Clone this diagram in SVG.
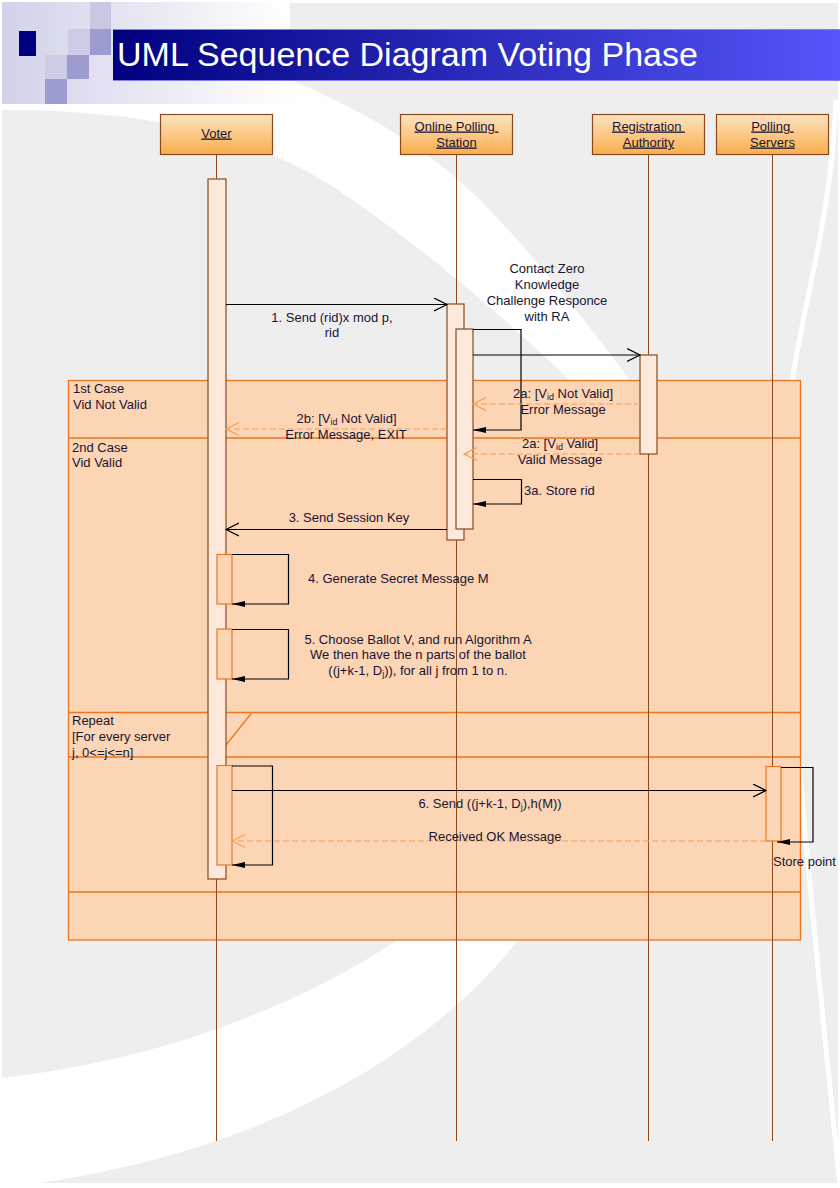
<svg xmlns="http://www.w3.org/2000/svg" width="840" height="1188" viewBox="0 0 840 1188">
<defs>
  <linearGradient id="hdrfade" x1="0" x2="1" y1="0" y2="0"><stop offset="0" stop-color="#d2d2ea"/><stop offset="1" stop-color="#ffffff"/></linearGradient>
  <linearGradient id="titlebar" x1="0" x2="1" y1="0" y2="0"><stop offset="0" stop-color="#00007e"/><stop offset="1" stop-color="#5555fa"/></linearGradient>
  <linearGradient id="boxfill" x1="0" x2="0" y1="0" y2="1"><stop offset="0" stop-color="#fde3c2"/><stop offset="1" stop-color="#f9ae4c"/></linearGradient>
  <marker id="open" markerWidth="15" markerHeight="15" refX="13" refY="7" orient="auto" markerUnits="userSpaceOnUse"><path d="M0,0.5 L13,7 L0,13.5" fill="none" stroke="#000" stroke-width="1.2"/></marker>
  <marker id="openO" markerWidth="15" markerHeight="15" refX="13" refY="7" orient="auto" markerUnits="userSpaceOnUse"><path d="M0,0.5 L13,7 L0,13.5" fill="none" stroke="#f8a05a" stroke-width="1.2"/></marker>
  <marker id="solid" markerWidth="15" markerHeight="8" refX="13" refY="4" orient="auto" markerUnits="userSpaceOnUse"><path d="M0,1 L13,4 L0,7 z" fill="#000"/></marker>
</defs>
<style>
  .lbl{font-family:"Liberation Sans",Arial,sans-serif;font-size:13px;fill:#1a1433}
  .mid{text-anchor:middle}
  .ul{text-decoration:underline}
  .box{fill:url(#boxfill);stroke:#8b4a1c;stroke-width:1.2}
  .life{stroke:#8b4a1c;stroke-width:1}
  .act{fill:#fde9dc;stroke:#8b4a1c;stroke-width:1.2}
  .act2{fill:#fcd5b4;stroke:#ed7520;stroke-width:1.2}
  .msg{stroke:#000;stroke-width:1.2;fill:none}
  .ret{stroke:#f8a05a;stroke-width:1.2;stroke-dasharray:6 3;fill:none}
  .frame{fill:#fcd5b4;stroke:#ed7520;stroke-width:1.3}
  .fline{stroke:#ed7520;stroke-width:1.3;fill:none}
  .sub{font-size:9px}
</style>

<!-- background -->
<g id="background">
  <rect x="0" y="0" width="840" height="1188" fill="#ffffff"/>
  <rect x="2" y="108" width="836" height="1075" fill="#eeeeee"/>
  <rect x="288" y="3" width="550" height="106" fill="#eeeeee"/>
  <path d="M0 104 L0 110 C150 110 250 135 330 185 C400 230 500 310 600 410 L660 420 C600 340 540 260 480 200 C420 140 350 105 280 75 L280 104 Z" fill="#ffffff"/>
  <path d="M0 1078 C150 1062 300 1010 420 925 L530 925 C430 1060 250 1160 0 1188 Z" fill="#ffffff"/>
  <path d="M836 100 C830 250 790 330 786 450 C782 600 800 800 840 1185" fill="none" stroke="#ffffff" stroke-width="5"/>
  <rect x="2" y="2" width="288" height="102" fill="url(#hdrfade)"/>
  <rect x="90" y="2" width="21" height="27" fill="#c8c8e4"/>
  <rect x="90" y="29" width="21" height="26" fill="#9c9cd0"/>
  <rect x="68" y="29" width="22" height="26" fill="#ccccE6"/>
  <rect x="45" y="55" width="22" height="24" fill="#ccccE6"/>
  <rect x="67" y="55" width="22" height="24" fill="#9c9cd0"/>
  <rect x="45" y="79" width="22" height="25" fill="#9c9cd0"/>
  <rect x="19" y="31" width="17" height="25" fill="#000080"/>
  <rect x="113" y="29" width="727" height="52" fill="url(#titlebar)"/>
  <line x1="113" y1="29.5" x2="840" y2="29.5" stroke="#8080e8" stroke-width="1"/>
  <line x1="113" y1="80.5" x2="840" y2="80.5" stroke="#8080e8" stroke-width="1"/>
  <text x="117" y="66" font-family="'Liberation Sans',Arial,sans-serif" font-size="34" fill="#ffffff">UML Sequence Diagram Voting Phase</text>
</g>

<!-- combined fragment frame -->
<g id="frame">
  <rect class="frame" x="68.5" y="380.5" width="732" height="559.5"/>
  <line class="fline" x1="68.5" y1="438" x2="800.5" y2="438"/>
  <line class="fline" x1="68.5" y1="712.5" x2="800.5" y2="712.5"/>
  <line class="fline" x1="68.5" y1="757" x2="800.5" y2="757"/>
  <line class="fline" x1="68.5" y1="892" x2="800.5" y2="892"/>
  <line class="fline" x1="226" y1="745" x2="252" y2="712.5" stroke-width="1"/>
  <text class="lbl" x="73" y="392.5">1st Case</text>
  <text class="lbl" x="73" y="408.5">Vid Not Valid</text>
  <text class="lbl" x="72" y="451.5">2nd Case</text>
  <text class="lbl" x="72" y="466.5">Vid Valid</text>
  <text class="lbl" x="72" y="725">Repeat</text>
  <text class="lbl" x="72" y="741">[For every server</text>
  <text class="lbl" x="72" y="757">j, 0&lt;=j&lt;=n]</text>
</g>

<!-- lifelines -->
<g id="voter">
  <line class="life" x1="216.5" y1="154" x2="216.5" y2="1141"/>
  <rect class="box" x="160.5" y="114.5" width="112" height="40"/>
  <text class="lbl mid ul" x="216.5" y="137.5">Voter</text>
  <rect class="act" x="208" y="179" width="18" height="700"/>
  <rect class="act2" x="217" y="554.5" width="15" height="49.5"/>
  <rect class="act2" x="217" y="629" width="15" height="50"/>
  <rect class="act2" x="217" y="765.5" width="15" height="99.5"/>
</g>
<g id="online-polling-station">
  <line class="life" x1="456.5" y1="154" x2="456.5" y2="1141"/>
  <rect class="box" x="400.5" y="114.5" width="112" height="40"/>
  <text class="lbl mid ul" x="456.5" y="130.5" xml:space="preserve">Online Polling </text>
  <text class="lbl mid ul" x="456.5" y="146.5">Station</text>
  <rect class="act" x="447" y="304" width="17" height="236"/>
  <rect class="act" x="456" y="329" width="17" height="200"/>
</g>
<g id="registration-authority">
  <line class="life" x1="648.5" y1="154" x2="648.5" y2="1141"/>
  <rect class="box" x="592.5" y="114.5" width="112" height="40"/>
  <text class="lbl mid ul" x="648.5" y="130.5" xml:space="preserve">Registration </text>
  <text class="lbl mid ul" x="648.5" y="146.5">Authority</text>
  <rect class="act" x="640" y="355" width="17" height="99"/>
</g>
<g id="polling-servers">
  <line class="life" x1="772.5" y1="154" x2="772.5" y2="1141"/>
  <rect class="box" x="716.5" y="114.5" width="112" height="40"/>
  <text class="lbl mid ul" x="772.5" y="130.5" xml:space="preserve">Polling </text>
  <text class="lbl mid ul" x="772.5" y="146.5">Servers</text>
  <rect class="act2" x="766" y="766.5" width="15" height="74.5"/>
</g>

<!-- connectors -->
<g id="connectors">
  <path class="msg" d="M226 304.5 H447" marker-end="url(#open)"/>
  <text class="lbl mid" x="332" y="321.5">1. Send (rid)x mod p,</text>
  <text class="lbl mid" x="332" y="337">rid</text>

  <path class="msg" d="M473 329.5 H521 V430 H473" marker-end="url(#solid)"/>
  <text class="lbl mid" x="547" y="272.5">Contact Zero</text>
  <text class="lbl mid" x="547" y="288.5">Knowledge</text>
  <text class="lbl mid" x="547" y="304.5">Challenge Responce</text>
  <text class="lbl mid" x="547" y="320.5">with RA</text>

  <path class="msg" d="M473 355 H640" marker-end="url(#open)"/>

  <path class="ret" d="M640 404 H473" marker-end="url(#openO)"/>
  <text class="lbl mid" x="563" y="397.5">2a: [V<tspan class="sub" dy="2">id</tspan><tspan dy="-2"> Not Valid]</tspan></text>
  <text class="lbl mid" x="563" y="413.5">Error Message</text>

  <path class="ret" d="M447 429 H226" marker-end="url(#openO)"/>
  <text class="lbl mid" x="346.5" y="422.5">2b: [V<tspan class="sub" dy="2">id</tspan><tspan dy="-2"> Not Valid]</tspan></text>
  <text class="lbl mid" x="346" y="438.5">Error Message, EXIT</text>

  <path class="ret" d="M640 454 H464" marker-end="url(#openO)"/>
  <text class="lbl mid" x="560" y="447.5">2a: [V<tspan class="sub" dy="2">id</tspan><tspan dy="-2"> Valid]</tspan></text>
  <text class="lbl mid" x="560" y="463.5">Valid Message</text>

  <path class="msg" d="M473 479.5 H521.5 V504 H473" marker-end="url(#solid)"/>
  <text class="lbl" x="524" y="494.5">3a. Store rid</text>

  <path class="msg" d="M447 529.5 H226" marker-end="url(#open)"/>
  <text class="lbl mid" x="349" y="521.5">3. Send Session Key</text>

  <path class="msg" d="M232 554.5 H288.5 V604 H232" marker-end="url(#solid)"/>
  <text class="lbl" x="308" y="582.5">4. Generate Secret Message M</text>

  <path class="msg" d="M232 629.5 H288.5 V679 H232" marker-end="url(#solid)"/>
  <text class="lbl mid" x="418" y="644">5. Choose Ballot V, and run Algorithm A</text>
  <text class="lbl mid" x="418" y="659">We then have the n parts of the ballot</text>
  <text class="lbl mid" x="418" y="674.5">((j+k-1, D<tspan class="sub" dy="2">j</tspan><tspan dy="-2">)), for all j from 1 to n.</tspan></text>

  <path class="msg" d="M232 766 H272.5 V865 H232" marker-end="url(#solid)"/>

  <path class="msg" d="M232 790.5 H766" marker-end="url(#open)"/>
  <text class="lbl mid" x="490" y="807.5">6. Send ((j+k-1, D<tspan class="sub" dy="2">j</tspan><tspan dy="-2">),h(M))</tspan></text>

  <path class="ret" d="M766 841 H232" marker-end="url(#openO)"/>
  <text class="lbl mid" x="495" y="840.5">Received OK Message</text>

  <path class="msg" d="M781 767.5 H813 V842 H777" marker-end="url(#solid)"/>
  <text class="lbl" x="773" y="865.5">Store point</text>
</g>
</svg>
